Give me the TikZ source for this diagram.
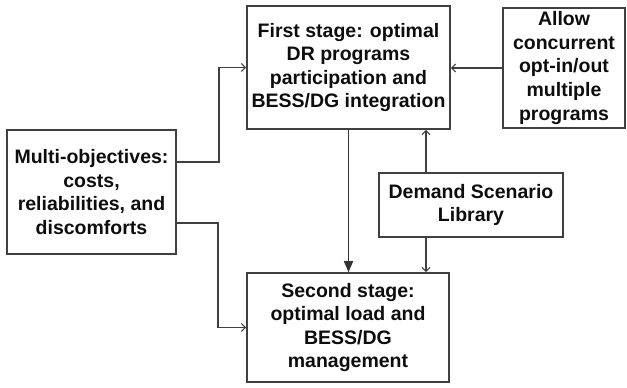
\documentclass[tikz,border=0pt]{standalone}
\usepackage{fontspec}
\setmainfont{Liberation Sans}
\usetikzlibrary{arrows.meta}
\begin{document}
\begin{tikzpicture}[x=1pt,y=-1pt,
  box/.style={draw=black!75, line width=1.6pt, inner sep=0pt, align=center,
    text=black!95, font=\fontsize{19.5}{23.6}\selectfont\bfseries},
  conn/.style={draw=black!75, line width=1.5pt,
    -{Straight Barb[length=4pt,width=8pt,line width=1.1pt]}},
  connf/.style={draw=black!80, line width=1.5pt,
    -{Triangle[length=11pt,width=9pt]}}]
\useasboundingbox (0,0) rectangle (627,388);
\node[box, minimum width=203pt, minimum height=123pt] (first) at (348.5,67.5)
  {First stage: optimal\\DR programs\\participation and\\BESS/DG integration};
\node[box, minimum width=122pt, minimum height=120pt] (allow) at (564,68)
  {Allow\\concurrent\\opt-in/out\\multiple\\programs};
\node[box, minimum width=169pt, minimum height=124pt] (multi) at (91.5,192)
  {Multi-objectives:\\costs,\\reliabilities, and\\discomforts};
\node[box, minimum width=184pt, minimum height=64pt] (dsl) at (471,205)
  {Demand Scenario\\Library};
\node[box, minimum width=202pt, minimum height=109pt] (second) at (348,327.5)
  {Second stage:\\optimal load and\\BESS/DG\\management};
\draw[conn] (allow.west) -- (allow.west -| first.east);
\draw[conn] ([yshift=30pt]multi.east) -- ++(42,0) |- (first.west);
\draw[conn] ([yshift=-31pt]multi.east) -- ++(41,0) |- (second.west);
\draw[connf] (first.south) -- (first.south |- second.north);
\draw[conn] ([xshift=-45pt]dsl.north) -- ([xshift=-45pt]dsl.north |- first.south);
\draw[conn] ([xshift=-45pt]dsl.south) -- ([xshift=-45pt]dsl.south |- second.north);
\end{tikzpicture}
\end{document}
